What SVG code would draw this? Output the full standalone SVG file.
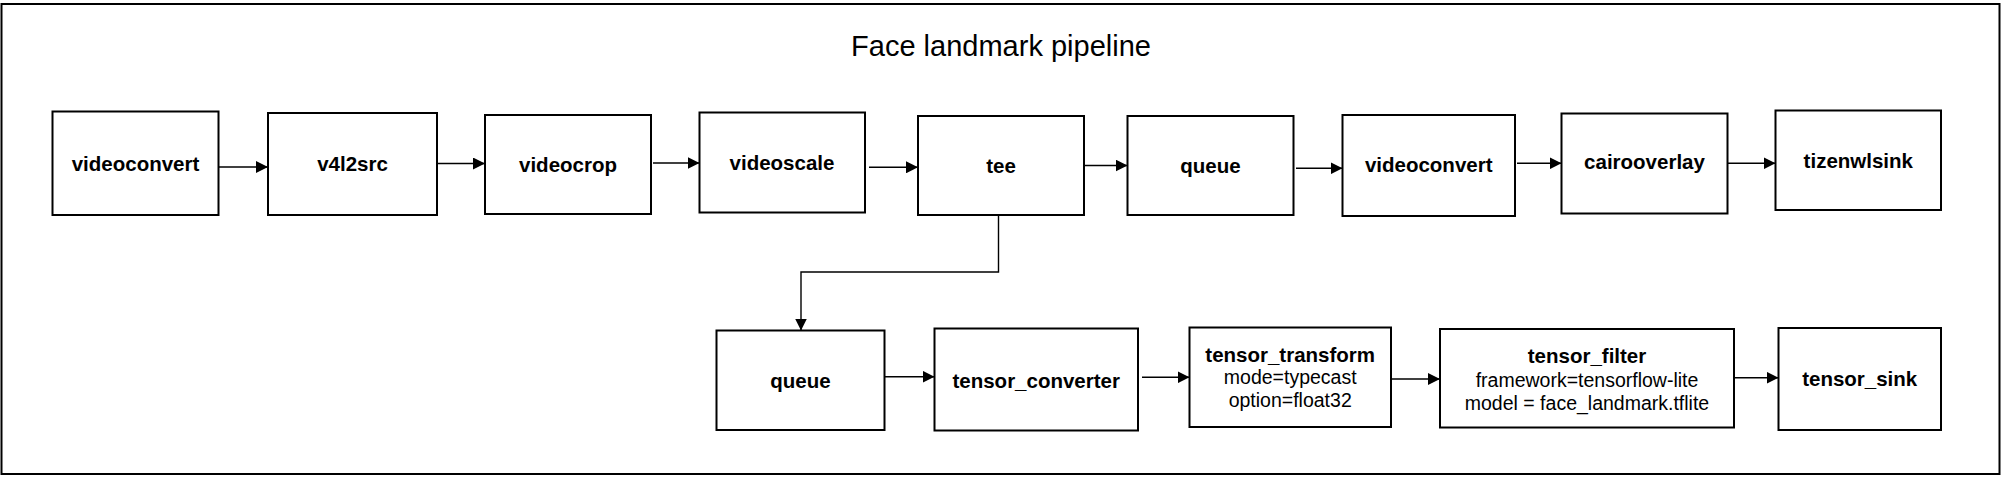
<svg xmlns="http://www.w3.org/2000/svg" width="2002" height="477" viewBox="0 0 2002 477">
  <style>
    .box { fill: #ffffff; stroke: #000000; stroke-width: 2; }
    .lbl { font-family: "Liberation Sans", Arial, sans-serif; font-weight: bold; font-size: 20.5px; fill: #000000; text-anchor: middle; }
    .sub { font-family: "Liberation Sans", Arial, sans-serif; font-size: 19.5px; fill: #000000; text-anchor: middle; }
    .title { font-family: "Liberation Sans", Arial, sans-serif; font-size: 29px; fill: #000000; text-anchor: middle; }
    .conn { fill: none; stroke: #000000; stroke-width: 1.4; marker-end: url(#arrow); }
  </style>
  <defs>
    <marker id="arrow" markerWidth="12" markerHeight="12" refX="12" refY="6" orient="auto" markerUnits="userSpaceOnUse">
      <path d="M0,0 L12,6 L0,12 Z" fill="#000000"/>
    </marker>
  </defs>
  <rect x="0" y="0" width="2002" height="477" fill="#ffffff"/>
  <rect x="1.5" y="4" width="1998" height="470" fill="none" stroke="#000000" stroke-width="2"/>
  <text class="title" x="1001" y="56">Face landmark pipeline</text>

  <g id="connectors">
    <path class="conn" d="M218.5,167 H268"/>
    <path class="conn" d="M437,163.5 H485"/>
    <path class="conn" d="M653,163 H699.5"/>
    <path class="conn" d="M869,167.3 H918"/>
    <path class="conn" d="M1084,165.5 H1127.5"/>
    <path class="conn" d="M1296,168.3 H1342.5"/>
    <path class="conn" d="M1517,163.3 H1561.5"/>
    <path class="conn" d="M1727.5,163.3 H1775.5"/>
    <path class="conn" d="M998.5,215 V272 H801 V330.5"/>
    <path class="conn" d="M884.5,376.7 H934.5"/>
    <path class="conn" d="M1142,377.3 H1189.5"/>
    <path class="conn" d="M1391,379 H1440"/>
    <path class="conn" d="M1734,377.7 H1778.5"/>
  </g>

  <g id="videoconvert1">
    <rect class="box" x="52.5" y="111.5" width="166" height="103.5"/>
    <text class="lbl" x="135.5" y="171">videoconvert</text>
  </g>
  <g id="v4l2src">
    <rect class="box" x="268" y="113" width="169" height="102"/>
    <text class="lbl" x="352.5" y="171">v4l2src</text>
  </g>
  <g id="videocrop">
    <rect class="box" x="485" y="115" width="166" height="99"/>
    <text class="lbl" x="568" y="171.5">videocrop</text>
  </g>
  <g id="videoscale">
    <rect class="box" x="699.5" y="112.5" width="165.5" height="100"/>
    <text class="lbl" x="782" y="170">videoscale</text>
  </g>
  <g id="tee">
    <rect class="box" x="918" y="116" width="166" height="99"/>
    <text class="lbl" x="1001" y="172.5">tee</text>
  </g>
  <g id="queue1">
    <rect class="box" x="1127.5" y="116" width="166" height="99"/>
    <text class="lbl" x="1210.5" y="172.5">queue</text>
  </g>
  <g id="videoconvert2">
    <rect class="box" x="1342.5" y="115" width="172.5" height="101"/>
    <text class="lbl" x="1428.7" y="172">videoconvert</text>
  </g>
  <g id="cairooverlay">
    <rect class="box" x="1561.5" y="113.5" width="166" height="100"/>
    <text class="lbl" x="1644.5" y="169">cairooverlay</text>
  </g>
  <g id="tizenwlsink">
    <rect class="box" x="1775.5" y="110.5" width="165.5" height="99.5"/>
    <text class="lbl" x="1858.3" y="168">tizenwlsink</text>
  </g>

  <g id="queue2">
    <rect class="box" x="716.5" y="330.5" width="168" height="99.5"/>
    <text class="lbl" x="800.5" y="387.5">queue</text>
  </g>
  <g id="tensor_converter">
    <rect class="box" x="934.5" y="328.5" width="203.5" height="102"/>
    <text class="lbl" x="1036.2" y="387.5">tensor_converter</text>
  </g>
  <g id="tensor_transform">
    <rect class="box" x="1189.5" y="327.5" width="201.5" height="99.5"/>
    <text class="lbl" x="1290.2" y="361.7">tensor_transform</text>
    <text class="sub" x="1290.2" y="383.5">mode=typecast</text>
    <text class="sub" x="1290.2" y="407">option=float32</text>
  </g>
  <g id="tensor_filter">
    <rect class="box" x="1440" y="329" width="294" height="98.5"/>
    <text class="lbl" x="1587" y="363.3">tensor_filter</text>
    <text class="sub" x="1587" y="386.7">framework=tensorflow-lite</text>
    <text class="sub" x="1587" y="410.3">model = face_landmark.tflite</text>
  </g>
  <g id="tensor_sink">
    <rect class="box" x="1778.5" y="328" width="162.5" height="102"/>
    <text class="lbl" x="1859.7" y="386">tensor_sink</text>
  </g>
</svg>
